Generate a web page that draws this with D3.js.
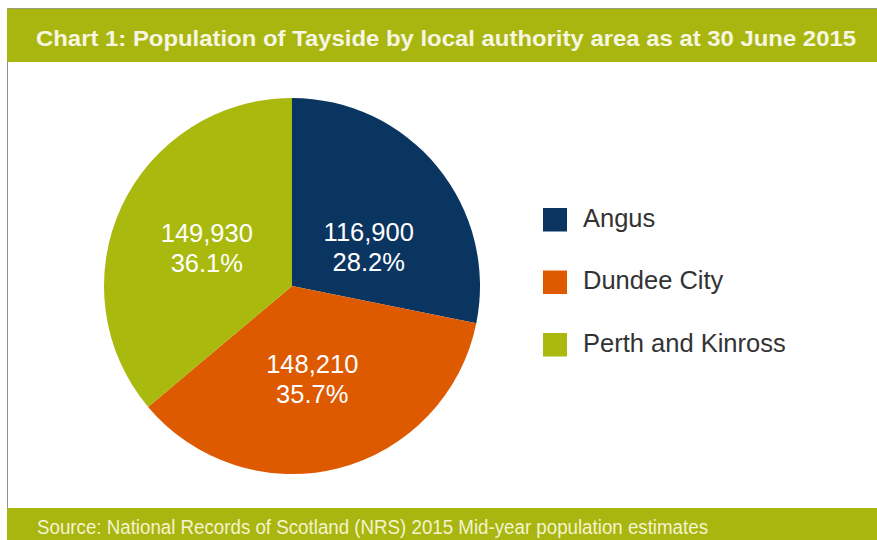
<!DOCTYPE html>
<html>
<head>
<meta charset="utf-8">
<script src="https://cdn.jsdelivr.net/npm/d3@7"></script>
<style>
  html, body { margin: 0; padding: 0; background: #ffffff; }
  svg { display: block; }
  text { font-family: "Liberation Sans", Arial, Helvetica, sans-serif; }
</style>
</head>
<body>
<script>
// ---- data ----
const categories = ["Angus", "Dundee City", "Perth and Kinross"];
const populations = [116900, 148210, 149930];
const sliceColors = ["#0b3561", "#dd5a00", "#a9b90e"];
const titleText = "Chart 1: Population of Tayside by local authority area as at 30 June 2015";
const sourceText = "Source: National Records of Scotland (NRS) 2015 Mid-year population estimates";

// ---- layout ----
const W = 877, H = 540;
const cx = 292, cy = 286, R = 188;
const labelR = 94;
const labelNudge = { "Angus": [4, 21], "Dundee City": [-3, 2], "Perth and Kinross": [0, 2] };
const barGreen = "#a9b60f";

const svg = d3.select("body").append("svg").attr("width", W).attr("height", H);

// frame lines
svg.append("line").attr("x1", 7.5).attr("x2", 7.5).attr("y1", 8).attr("y2", H)
  .attr("stroke", "#8f8f8f").attr("stroke-width", 1);

// title bar
svg.append("rect").attr("x", 7).attr("y", 8).attr("width", W - 7).attr("height", 54)
  .attr("fill", barGreen);
svg.append("line").attr("x1", 7).attr("x2", W).attr("y1", 8.5).attr("y2", 8.5)
  .attr("stroke", "#9aa07a").attr("stroke-width", 1);
svg.append("text").attr("x", 36).attr("y", 45.7)
  .attr("font-size", 22.5).attr("font-weight", "bold").attr("fill", "#f6f6e2")
  .attr("textLength", 820).attr("lengthAdjust", "spacingAndGlyphs")
  .text(titleText);

// footer bar
svg.append("rect").attr("x", 7).attr("y", 508).attr("width", W - 7).attr("height", 32)
  .attr("fill", barGreen);
svg.append("text").attr("x", 37).attr("y", 534)
  .attr("font-size", 19.5).attr("fill", "#f3f4d0")
  .attr("textLength", 671).attr("lengthAdjust", "spacingAndGlyphs")
  .text(sourceText);

// pie
const data = categories.map((c, i) => ({ name: c, value: populations[i], color: sliceColors[i] }));
const total = d3.sum(populations);
const pie = d3.pie().value(d => d.value).sort(null);
const arcs = pie(data);
const arc = d3.arc().innerRadius(0).outerRadius(R);
const labelArc = d3.arc().innerRadius(labelR).outerRadius(labelR);

const g = svg.append("g").attr("transform", `translate(${cx},${cy})`);
g.selectAll("path").data(arcs).enter().append("path")
  .attr("d", arc).attr("fill", d => d.data.color);

const fmt = d3.format(",");
const pct = v => (v / total * 100).toFixed(1) + "%";
const labels = g.selectAll("g.lbl").data(arcs).enter().append("g").attr("class", "lbl")
  .attr("transform", d => {
    const c = labelArc.centroid(d);
    const n = labelNudge[d.data.name];
    return `translate(${c[0] + n[0]},${c[1] + n[1]})`;
  });
labels.append("text").attr("text-anchor", "middle").attr("y", -6)
  .attr("font-size", 25.5).attr("fill", "#ffffff")
  .text(d => fmt(d.data.value));
labels.append("text").attr("text-anchor", "middle").attr("y", 24)
  .attr("font-size", 25.5).attr("fill", "#ffffff")
  .text(d => pct(d.data.value));

// legend
const legend = svg.append("g").attr("transform", "translate(543,208)");
const li = legend.selectAll("g").data(data).enter().append("g")
  .attr("transform", (d, i) => `translate(0,${i * 62.5})`);
li.append("rect").attr("width", 24).attr("height", 23.5).attr("fill", d => d.color);
li.append("text").attr("x", 40).attr("y", 18.5)
  .attr("font-size", 25.5).attr("fill", "#333333")
  .text(d => d.name);
</script>
</body>
</html>
